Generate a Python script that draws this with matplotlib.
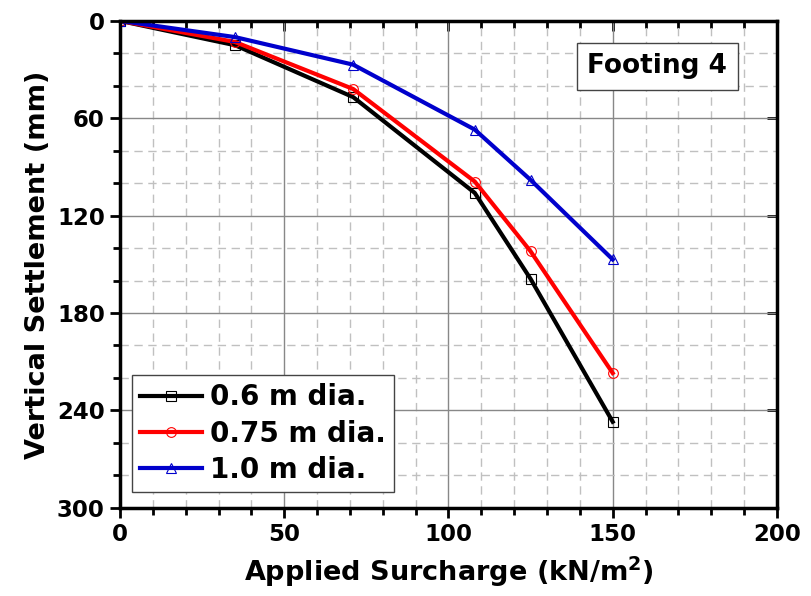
import numpy as np
import matplotlib.pyplot as plt
from matplotlib.ticker import MultipleLocator

# Data
surcharge = [0, 35, 71, 108, 125, 150]          # kN/m2
settle_06 = [0, 15, 47, 106, 159, 247]           # mm, 0.6 m dia.
settle_075 = [0, 13, 42, 99, 142, 217]           # mm, 0.75 m dia.
settle_10 = [0, 10, 27, 67, 98, 147]             # mm, 1.0 m dia.

labels = ["0.6 m dia.", "0.75 m dia.", "1.0 m dia."]
colors = ["black", "red", "#0000cc"]
markers = ["s", "o", "^"]

plt.rcParams['font.family'] = ['DejaVu Sans']
plt.rcParams['font.weight'] = 'bold'

fig = plt.figure(figsize=(8.11, 5.96), dpi=100)
ax = fig.add_axes([0.148, 0.148, 0.810, 0.817])

for y, lab, c, m in zip([settle_06, settle_075, settle_10], labels, colors, markers):
    ax.plot(surcharge, y, color=c, lw=3, marker=m, ms=7, mfc='none',
            mec=c, mew=0.8, label=lab)

ax.set_xlim(0, 200)
ax.set_ylim(300, 0)
ax.xaxis.set_major_locator(MultipleLocator(50))
ax.xaxis.set_minor_locator(MultipleLocator(10))
ax.yaxis.set_major_locator(MultipleLocator(60))
ax.yaxis.set_minor_locator(MultipleLocator(20))

ax.grid(True, which='major', color='#888888', lw=1.0, ls='-')
ax.grid(True, which='minor', color='#c0c0c0', lw=1.0, ls=(0, (6, 4)))
ax.set_axisbelow(True)

for s in ax.spines.values():
    s.set_linewidth(2.5)

ax.tick_params(which='both', direction='out', width=2, top=False, right=False)
ax.tick_params(which='major', length=7, labelsize=16.5, pad=4)
ax.tick_params(which='minor', length=5)
for lbl in ax.get_xticklabels() + ax.get_yticklabels():
    lbl.set_fontweight('bold')

# inward ticks on top and right
ax2 = ax.secondary_xaxis('top')
ax2.xaxis.set_major_locator(MultipleLocator(50))
ax2.xaxis.set_minor_locator(MultipleLocator(10))
ax2.tick_params(which='both', direction='in', width=2, labeltop=False)
ax2.tick_params(which='major', length=7)
ax2.tick_params(which='minor', length=5)
ax3 = ax.secondary_yaxis('right')
ax3.yaxis.set_major_locator(MultipleLocator(60))
ax3.yaxis.set_minor_locator(MultipleLocator(20))
ax3.tick_params(which='both', direction='in', width=2, labelright=False)
ax3.tick_params(which='major', length=7)
ax3.tick_params(which='minor', length=0)

ax.set_xlabel("Applied Surcharge (kN/m$\\mathbf{^2}$)", fontsize=19.5, fontweight='bold', labelpad=6)
ax.set_ylabel("Vertical Settlement (mm)", fontsize=19.5, fontweight='bold', labelpad=4)

ax.text(163.5, 28, "Footing 4", fontsize=19, fontweight='bold', ha='center', va='center',
        bbox=dict(boxstyle='square,pad=0.4', fc='white', ec='#444444', lw=1))

leg = ax.legend(loc='lower left', bbox_to_anchor=(0.01, 0.02),
                prop={'weight': 'bold', 'size': 20}, fancybox=False, framealpha=1,
                edgecolor='#444444', handlelength=2.2, handletextpad=0.3,
                labelspacing=0.3, borderpad=0.3, borderaxespad=0.2)
leg.get_frame().set_linewidth(1)

plt.savefig("out.png", dpi=100)
